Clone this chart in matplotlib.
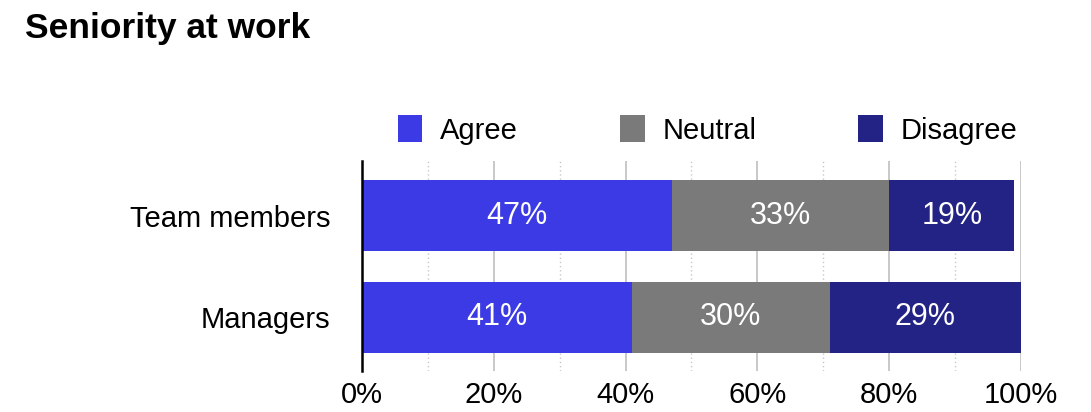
import matplotlib
matplotlib.use("Agg")
import matplotlib.pyplot as plt
from matplotlib.ticker import MultipleLocator, FuncFormatter

plt.rcParams['font.family'] = ['Liberation Sans', 'DejaVu Sans']

# survey shares, in percent
groups = ["Managers", "Team members"]
agree = [41, 47]
neutral = [30, 33]
disagree = [29, 19]
series_names = ["Agree", "Neutral", "Disagree"]
series_colors = ["#3c3ae4", "#7a7a7a", "#232385"]

fig = plt.figure(figsize=(10.91, 4.12), dpi=100)
ax = fig.add_axes([0.3318, 0.0995, 0.6040, 0.5097])

pos = list(range(len(groups)))
left = [0] * len(groups)
bars = []
for vals, name, col in zip([agree, neutral, disagree], series_names, series_colors):
    b = ax.barh(pos, vals, left=left, height=0.7, color=col, label=name, zorder=3)
    bars.append(b)
    for y, v, l in zip(pos, vals, left):
        ax.text(l + v / 2, y, f"{v}%", ha="center", va="center",
                color="white", fontsize=22, zorder=4)
    left = [a + v for a, v in zip(left, vals)]

ax.set_xlim(0, 100)
ax.set_ylim(-0.53, 1.54)
ax.set_yticks(pos)
ax.set_yticklabels(groups, fontsize=21)
ax.xaxis.set_major_locator(MultipleLocator(20))
ax.xaxis.set_minor_locator(MultipleLocator(10))
ax.xaxis.set_major_formatter(FuncFormatter(lambda v, p: f"{v:.0f}%"))
ax.tick_params(axis="x", which="both", length=0, labelsize=21, pad=7)
ax.tick_params(axis="y", length=0, pad=23)

ax.grid(axis="x", which="major", color="#c4c4c4", linewidth=1.3, zorder=0)
ax.grid(axis="x", which="minor", color="#c8c8c8", linewidth=1.0,
        linestyle=(0, (1, 2)), zorder=0)
ax.set_axisbelow(True)

for side in ["top", "right", "bottom"]:
    ax.spines[side].set_visible(False)
ax.spines["left"].set_linewidth(1.8)
ax.spines["left"].set_color("black")
ax.spines["left"].set_zorder(5)

fig.legend(handles=bars, labels=series_names, loc="center",
           bbox_to_anchor=(0.6485, 0.6845), ncol=3, frameon=False,
           fontsize=21, handlelength=0.85, handleheight=1.05,
           handletextpad=0.6, columnspacing=3.5)

fig.text(0.023, 0.932, "Seniority at work", fontsize=25.5,
         fontweight="bold", ha="left", va="center")

fig.savefig("out.png", dpi=100)
